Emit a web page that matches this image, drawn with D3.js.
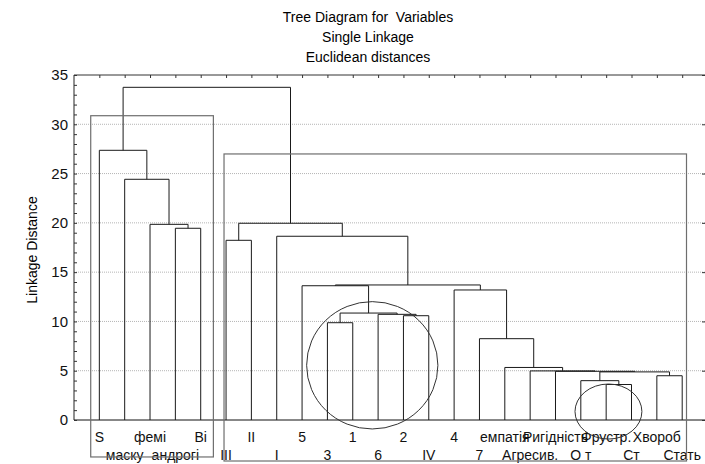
<!DOCTYPE html>
<html>
<head>
<meta charset="utf-8">
<script src="https://cdn.jsdelivr.net/npm/d3@7"></script>
<style>
  body { margin: 0; background: #fff; }
  svg { display: block; font-family: "Liberation Sans", Arial, sans-serif; }
</style>
</head>
<body>
<svg id="chart" width="705" height="464"></svg>
<script>
// leaves in dendrogram order
const leaves = ["S", "маску", "фемі", "андрогі", "Ві", "III", "II", "I", "5", "3", "1", "6",
    "2", "IV", "4", "7", "емпатія", "Агресив.", "Ригідність", "О т", "Фрустр.", "Ст", "Хвороб", "Стать"];

// merges: [left, right, linkage distance]; a number refers to an earlier merge
const merges = [
    ["Фрустр.", "Ст", 3.6],      // 0
    ["О т", 0, 3.99],             // 1
    ["Хвороб", "Стать", 4.49],    // 2
    [1, 2, 4.88],                 // 3
    ["Ригідність", 3, 4.94],      // 4
    ["Агресив.", 4, 4.98],        // 5
    ["емпатія", 5, 5.33],         // 6
    ["7", 6, 8.25],               // 7
    ["3", "1", 9.87],             // 8
    ["2", "IV", 10.58],           // 9
    ["6", 9, 10.72],              // 10
    [8, 10, 10.85],               // 11
    ["4", 7, 13.19],              // 12
    ["5", 11, 13.62],             // 13
    [13, 12, 13.70],              // 14
    ["III", "II", 18.23],         // 15
    ["I", 14, 18.64],             // 16
    [15, 16, 19.96],              // 17
    ["андрогі", "Ві", 19.45],     // 18
    ["фемі", 18, 19.85],          // 19
    ["маску", 19, 24.42],         // 20
    ["S", 20, 27.36],             // 21
    [21, 17, 33.75]               // 22
];

const yTicks = [0, 5, 10, 15, 20, 25, 30, 35];
const gridValues = [5, 10, 15, 20, 25, 30];

// hand drawn annotations (leaf index / linkage units)
const boxes = [
    {x0: -0.34, x1: 4.5, top: 30.87, bottom: -3.75},
    {x0: 4.92, x1: 23.17, top: 26.99, bottom: -4.16}
];
const ellipses = [
    {cx: 10.77, cy: 5.55, rx: 2.59, ry: 6.46},
    {cx: 20.09, cy: 0.86, rx: 1.32, ry: 2.79}
];

const plotL = 74, plotR = 705, plotT = 75, plotB = 420;
const svg = d3.select("#chart");

const x = d3.scaleLinear().domain([-1, 23.9]).range([plotL, plotR]);
const y = d3.scaleLinear().domain([0, 35]).range([plotB, plotT]);

// title
svg.append("g")
    .attr("font-size", "14px")
    .attr("text-anchor", "middle")
    .selectAll("text")
    .data(["Tree Diagram for  Variables", "Single Linkage", "Euclidean distances"])
    .enter().append("text")
    .attr("x", 368)
    .attr("y", (_, i) => 22 + i * 20)
    .style("white-space", "pre")
    .text(d => d);

// grid
svg.append("g").selectAll("line")
    .data(gridValues)
    .enter().append("line")
    .attr("x1", plotL).attr("x2", plotR)
    .attr("y1", d => y(d)).attr("y2", d => y(d))
    .attr("stroke", "#b5b5b5")
    .attr("stroke-dasharray", "1,1");

// frame
svg.append("line").attr("x1", plotL).attr("x2", plotR).attr("y1", plotT).attr("y2", plotT)
    .attr("stroke", "#333");
svg.append("line").attr("x1", plotL).attr("x2", plotL).attr("y1", plotT).attr("y2", plotB)
    .attr("stroke", "#222");
svg.append("line").attr("x1", plotL).attr("x2", plotR).attr("y1", plotB).attr("y2", plotB)
    .attr("stroke", "#111");

// y axis labels + ticks
const yAxis = svg.append("g")
    .attr("transform", `translate(${plotL},0)`)
    .call(d3.axisLeft(y).tickValues(yTicks).tickSize(0).tickPadding(6));
yAxis.select(".domain").remove();
yAxis.selectAll("text")
    .attr("font-size", "15px")
    .attr("font-family", "Liberation Sans, Arial, sans-serif")
    .attr("fill", "#111");

const minor = svg.append("g")
    .attr("transform", `translate(${plotL},0)`)
    .call(d3.axisRight(y).tickValues(d3.range(0, 36)).tickSize(3).tickFormat(""));
minor.select(".domain").remove();
minor.selectAll("line").attr("stroke", "#333");

const rightTicks = svg.append("g")
    .attr("transform", `translate(${plotR},0)`)
    .call(d3.axisLeft(y).tickValues(yTicks).tickSize(3).tickFormat(""));
rightTicks.select(".domain").remove();
rightTicks.selectAll("line").attr("stroke", "#333");

const topTicks = svg.append("g")
    .attr("transform", `translate(0,${plotT})`)
    .call(d3.axisBottom(x).tickValues(d3.range(leaves.length)).tickSize(3).tickFormat(""));
topTicks.select(".domain").remove();
topTicks.selectAll("line").attr("stroke", "#333");

svg.append("text")
    .attr("transform", `translate(37,250) rotate(-90)`)
    .attr("text-anchor", "middle")
    .attr("font-size", "14px")
    .text("Linkage Distance");

// dendrogram
const nodes = merges.map(() => null);
function pos(ref) {
    if (typeof ref === "number") return nodes[ref];
    return {x: x(leaves.indexOf(ref)), h: 0};
}
const links = [];
merges.forEach((m, i) => {
    const a = pos(m[0]), b = pos(m[1]);
    nodes[i] = {x: (a.x + b.x) / 2, h: m[2]};
    links.push({a: a, b: b, h: m[2]});
});

svg.append("g").selectAll("path")
    .data(links)
    .enter().append("path")
    .attr("d", d => `M${d.a.x},${y(d.a.h)}V${y(d.h)}H${d.b.x}V${y(d.b.h)}`)
    .attr("fill", "none")
    .attr("stroke", "#1a1a1a")
    .attr("stroke-width", 1);

// leaf labels, alternating rows
svg.append("g")
    .attr("font-size", "14px")
    .attr("text-anchor", "middle")
    .selectAll("text")
    .data(leaves)
    .enter().append("text")
    .attr("x", (_, i) => x(i))
    .attr("y", (_, i) => i % 2 === 0 ? 442 : 460)
    .attr("fill", "#111")
    .text(d => d);

// annotations
svg.append("g").selectAll("rect")
    .data(boxes)
    .enter().append("rect")
    .attr("x", d => x(d.x0))
    .attr("y", d => y(d.top))
    .attr("width", d => x(d.x1) - x(d.x0))
    .attr("height", d => y(d.bottom) - y(d.top))
    .attr("fill", "none")
    .attr("stroke", "#6e6e6e")
    .attr("stroke-width", 1.2);

svg.append("g").selectAll("ellipse")
    .data(ellipses)
    .enter().append("ellipse")
    .attr("cx", d => x(d.cx))
    .attr("cy", d => y(d.cy))
    .attr("rx", d => x(d.rx) - x(0))
    .attr("ry", d => y(0) - y(d.ry))
    .attr("fill", "none")
    .attr("stroke", "#333")
    .attr("stroke-width", 1);
</script>
</body>
</html>
